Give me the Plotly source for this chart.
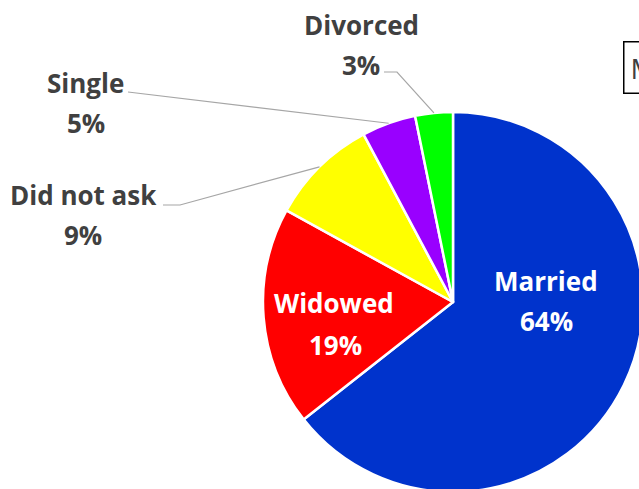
import math
import plotly.graph_objects as go

# ---- data ----
labels = ["Married", "Widowed", "Did not ask", "Single", "Divorced"]
values = [64.4, 18.6, 9.2, 4.6, 3.2]
colors = ["#0033CC", "#FF0000", "#FFFF00", "#9900FF", "#00FF00"]
title_text = "Marital Status"

# ---- geometry (pixels) ----
W, H = 700, 500
CX, CY, R = 453, 302, 190

# label placement: name centre, percent centre, leader start (None = inside label)
label_pos = {
    "Married":     ((546, 281), (546, 321), None, "white"),
    "Widowed":     ((334, 303), (335, 345), None, "white"),
    "Did not ask": ((83, 195), (83, 235), [(163, 205), (180, 205)], "#404040"),
    "Single":      ((85, 83), (86, 123), [(128, 92)], "#404040"),
    "Divorced":    ((361, 25), (361, 65), [(384, 72), (397, 72)], "#404040"),
}

def px(x):
    return x / W

def py(y):
    return 1 - y / H

fig = go.Figure(go.Pie(
    labels=labels,
    values=values,
    sort=False,
    direction="clockwise",
    rotation=0,
    marker=dict(colors=colors, line=dict(color="white", width=2.5)),
    textinfo="none",
    hoverinfo="label+percent",
    domain=dict(x=[px(CX - R), px(CX + R)], y=[py(CY + R), py(CY - R)]),
    showlegend=False,
))

total = sum(values)
annotations = []
shapes = []
cum = 0.0
font_family = "Open Sans"
for lab, v in zip(labels, values):
    frac = v / total
    mid = (cum + frac / 2) * 360.0
    cum += frac
    (nx, ny), (pxx, pyy), leader, col = label_pos[lab]
    f = dict(family=font_family, size=26, color=col, weight="bold")
    annotations.append(dict(x=px(nx), y=py(ny), xref="paper", yref="paper",
                            text=lab, showarrow=False, font=f,
                            xanchor="center", yanchor="middle"))
    annotations.append(dict(x=px(pxx), y=py(pyy), xref="paper", yref="paper",
                            text=f"{round(frac * 100)}%", showarrow=False, font=f,
                            xanchor="center", yanchor="middle"))
    if leader:
        ex = CX + R * math.sin(math.radians(mid))
        ey = CY - R * math.cos(math.radians(mid))
        pts = leader + [(ex, ey)]
        path = "M " + " L ".join(f"{px(a):.5f},{py(b):.5f}" for a, b in pts)
        shapes.append(dict(type="path", path=path, xref="paper", yref="paper",
                           line=dict(color="#A6A6A6", width=1.2)))

annotations.append(dict(x=px(623), y=py(41), xref="paper", yref="paper",
                        text=title_text, showarrow=False,
                        font=dict(family=font_family, size=28, color="#404040"),
                        xanchor="left", yanchor="top",
                        bordercolor="#000000", borderwidth=1.5, borderpad=6,
                        bgcolor="white"))

fig.update_layout(
    width=W, height=H, autosize=False,
    margin=dict(l=0, r=0, t=0, b=0),
    paper_bgcolor="white", plot_bgcolor="white",
    annotations=annotations, shapes=shapes,
)

fig.write_html("out.html",
               post_script="document.body.style.margin='0';document.body.style.overflow='hidden';")
